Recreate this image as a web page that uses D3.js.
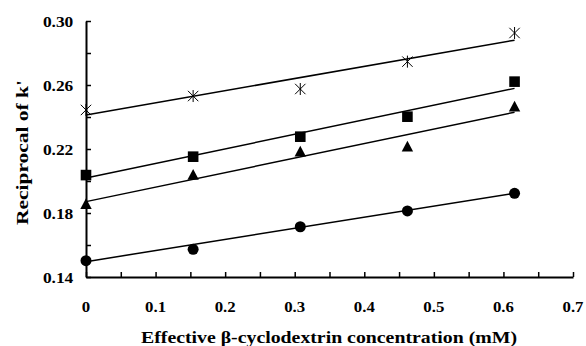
<!DOCTYPE html>
<html>
<head>
<meta charset="utf-8">
<script src="https://cdn.jsdelivr.net/npm/d3@7"></script>
<style>
  body { margin: 0; background: #fff; }
  text { font-family: "Liberation Serif", "Times New Roman", serif; font-weight: bold; fill: #000; }
</style>
</head>
<body>
<svg id="chart" width="586" height="346"></svg>
<script>
// concentrations (mM)
const conc = [0, 0.154, 0.308, 0.462, 0.616];

// reciprocal of k' per series
const starVals = [0.2444, 0.2531, 0.2575, 0.2746, 0.2925];
const squareVals = [0.2037, 0.2152, 0.2277, 0.2402, 0.2621];
const triangleVals = [0.1855, 0.2037, 0.2183, 0.2214, 0.2464];
const circleVals = [0.1502, 0.1573, 0.1714, 0.1813, 0.1923];

// fitted lines, value at x=0 and at the last point
const fitStart = [0.2413, 0.2019, 0.1871, 0.1496];
const fitEnd = [0.2880, 0.2579, 0.2430, 0.1923];

const xTicks = [0, 0.1, 0.2, 0.3, 0.4, 0.5, 0.6, 0.7];
const yTicks = [0.14, 0.18, 0.22, 0.26, 0.30];

const svg = d3.select('#chart');
const padding = { top: 21, left: 86, right: 13, bottom: 69 };
const width = 586 - padding.left - padding.right;
const height = 346 - padding.top - padding.bottom;

const chart = svg.append('g')
  .attr('transform', `translate(${padding.left}, ${padding.top})`);

const x = d3.scaleLinear().domain([0, 0.7]).range([0, width]);
const y = d3.scaleLinear().domain([0.14, 0.30]).range([height, 0]);

// axes with inward ticks
const xAxis = chart.append('g')
  .attr('transform', `translate(0, ${height})`)
  .call(d3.axisBottom(x).tickValues(d3.range(0, 0.701, 0.05)).tickSize(-5).tickSizeOuter(0).tickFormat(''));
const yAxis = chart.append('g')
  .call(d3.axisLeft(y).tickValues(d3.range(0.14, 0.3001, 0.02)).tickSize(-5).tickSizeOuter(0).tickFormat(''));

[xAxis, yAxis].forEach(a => {
  a.select('.domain').attr('stroke', '#000').attr('stroke-width', 2);
  a.selectAll('.tick line').attr('stroke', '#000').attr('stroke-width', 1.5);
});

// tick labels are a little wide in the original, so stretch them sideways
chart.selectAll('.xlab')
  .data(xTicks)
  .join('text')
  .attr('transform', d => `translate(${x(d)}, ${height + 34.5}) scale(1.12, 1)`)
  .attr('text-anchor', 'middle')
  .attr('font-size', 15)
  .text(d => d === 0 ? '0' : d3.format('.1f')(d));

chart.selectAll('.ylab')
  .data(yTicks)
  .join('text')
  .attr('transform', d => `translate(-12.7, ${y(d) + 5.5}) scale(1.2, 1)`)
  .attr('text-anchor', 'end')
  .attr('font-size', 14.5)
  .text(d => d3.format('.2f')(d));

svg.append('text')
  .attr('x', 329)
  .attr('y', 343)
  .attr('text-anchor', 'middle')
  .attr('font-size', 17.5)
  .attr('textLength', 376)
  .attr('lengthAdjust', 'spacingAndGlyphs')
  .text('Effective β-cyclodextrin concentration (mM)');

svg.append('text')
  .attr('transform', 'translate(28, 152.5) rotate(-90)')
  .attr('text-anchor', 'middle')
  .attr('font-size', 17)
  .attr('textLength', 145)
  .attr('lengthAdjust', 'spacingAndGlyphs')
  .text("Reciprocal of k'");

// fit lines
const lastX = conc[conc.length - 1];
chart.selectAll('.fit')
  .data(fitStart.map((s, i) => [[0, s], [lastX, fitEnd[i]]]))
  .join('line')
  .attr('x1', d => x(d[0][0]))
  .attr('y1', d => y(d[0][1]))
  .attr('x2', d => x(d[1][0]))
  .attr('y2', d => y(d[1][1]))
  .attr('stroke', '#000')
  .attr('stroke-width', 1.5);

const pts = vals => vals.map((v, i) => ({ cx: x(conc[i]), cy: y(v) }));

chart.selectAll('.circle')
  .data(pts(circleVals))
  .join('circle')
  .attr('cx', d => d.cx)
  .attr('cy', d => d.cy)
  .attr('r', 5.5)
  .attr('fill', '#000');

chart.selectAll('.square')
  .data(pts(squareVals))
  .join('rect')
  .attr('x', d => d.cx - 5.3)
  .attr('y', d => d.cy - 5.3)
  .attr('width', 10.6)
  .attr('height', 10.6)
  .attr('fill', '#000');

chart.selectAll('.triangle')
  .data(pts(triangleVals))
  .join('path')
  .attr('transform', d => `translate(${d.cx}, ${d.cy})`)
  .attr('d', 'M0,-6L5.7,4.7L-5.7,4.7Z')
  .attr('fill', '#000');

chart.selectAll('.star')
  .data(pts(starVals))
  .join('path')
  .attr('transform', d => `translate(${d.cx}, ${d.cy})`)
  .attr('d', 'M0,-6V6M-5.2,-5.2L5.2,5.2M5.2,-5.2L-5.2,5.2')
  .attr('stroke', '#000')
  .attr('stroke-width', 1)
  .attr('fill', 'none');
</script>
</body>
</html>
